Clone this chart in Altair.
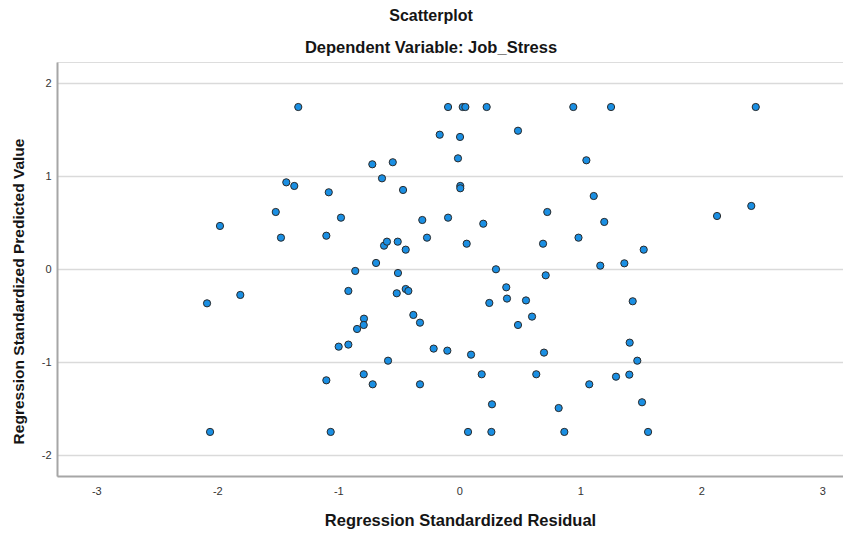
import altair as alt
import pandas as pd

residual = [
    -1.331, -0.093, 0.028, 0.050, 0.226, 0.942, 1.254, 2.450,
    -0.162, 0.006, 0.485, -0.011, -0.719, -0.550, 1.050, -0.639,
    -1.430, -1.364, -1.079, -0.465, 0.008, 0.008, 1.111, 2.413,
    0.727, -1.517, 2.130, -0.978, -0.306, -0.093, 0.198, 1.198,
    -1.978, -1.474, -1.099, -0.267, 0.985, -0.622, -0.598, -0.509,
    -0.443, 0.061, 0.692, 1.524, 1.165, 1.364, -0.860, -0.688,
    -0.507, 0.303, 0.714, -1.810, -2.085, -0.917, -0.517, -0.443,
    -0.421, 0.388, 0.394, 0.551, 0.248, 1.433, 0.601, 0.485,
    -0.380, -0.325, -0.788, -0.790, -0.845, 1.408, -0.997, -0.917,
    -0.212, -0.099, 0.097, 0.700, -0.589, 1.471, -1.099, -0.790,
    -0.716, -0.325, 0.185, 0.636, 1.295, 1.405, 1.074, 0.270,
    0.821, 1.510, -2.060, -1.063, 0.072, 0.265, 0.868, 1.560,
]
predicted = [
    1.745, 1.745, 1.745, 1.745, 1.745, 1.745, 1.745, 1.745,
    1.447, 1.423, 1.490, 1.193, 1.129, 1.151, 1.172, 0.978,
    0.935, 0.896, 0.828, 0.853, 0.896, 0.871, 0.788, 0.681,
    0.616, 0.616, 0.573, 0.555, 0.530, 0.555, 0.490, 0.509,
    0.466, 0.340, 0.361, 0.340, 0.340, 0.254, 0.297, 0.297,
    0.211, 0.275, 0.275, 0.211, 0.039, 0.064, -0.018, 0.068,
    -0.040, 0.000, -0.065, -0.276, -0.366, -0.233, -0.258, -0.212,
    -0.233, -0.194, -0.315, -0.335, -0.362, -0.344, -0.509, -0.599,
    -0.491, -0.574, -0.531, -0.599, -0.642, -0.789, -0.832, -0.810,
    -0.853, -0.875, -0.918, -0.896, -0.983, -0.983, -1.194, -1.129,
    -1.237, -1.237, -1.129, -1.129, -1.155, -1.133, -1.237, -1.452,
    -1.492, -1.430, -1.749, -1.749, -1.749, -1.749, -1.749, -1.749,
]
x_ticks = [-3, -2, -1, 0, 1, 2, 3]
y_ticks = [-2, -1, 0, 1, 2]

df = pd.DataFrame({"resid": residual, "pred": predicted})

FONT = "Liberation Sans"
LABEL_EXPR = "'' + datum.value"

chart = alt.Chart(df).mark_point(
    shape="circle", filled=True, size=52, fill="#1a8fe3",
    stroke="#2a2a2a", strokeWidth=1, opacity=1,
).encode(
    x=alt.X("resid:Q", scale=alt.Scale(domain=[-3.325, 3.171], nice=False, zero=False),
            axis=alt.Axis(values=x_ticks, grid=False, ticks=False, domainColor="#a6a6a6",
                          domainWidth=2, labelFont=FONT, labelFontSize=11, labelColor="#333333",
                          labelPadding=9, labelExpr=LABEL_EXPR,
                          title="Regression Standardized Residual",
                          titleFont=FONT, titleFontSize=16.5, titleFontWeight="bold",
                          titleColor="#151515", titleX=403, titleY=49,
                          titleAlign="center", titleBaseline="alphabetic", labelFlush=False)),
    y=alt.Y("pred:Q", scale=alt.Scale(domain=[-2.223, 2.229], nice=False, zero=False),
            axis=alt.Axis(values=y_ticks, grid=True, gridColor="#dadada", gridWidth=1.5,
                          ticks=False, domainColor="#a6a6a6", domainWidth=2,
                          labelFont=FONT, labelFontSize=11, labelColor="#333333",
                          labelPadding=6, labelExpr=LABEL_EXPR,
                          title="Regression Standardized Predicted Value",
                          titleFont=FONT, titleFontSize=15.5, titleFontWeight="bold",
                          titleColor="#151515", titleX=-39, titleY=229, titleAngle=270,
                          titleAlign="center", titleBaseline="middle", labelFlush=False)),
).properties(
    width=786, height=414,
    title=alt.TitleParams(
        text="Scatterplot", subtitle="Dependent Variable: Job_Stress",
        anchor="middle", dx=-19, offset=6, font=FONT, fontSize=16, fontWeight="bold",
        color="#151515", subtitleFont=FONT, subtitleFontSize=16.5,
        subtitleFontWeight="bold", subtitleColor="#151515", subtitlePadding=16,
    ),
    autosize=alt.AutoSizeParams(type="none"),
    padding={"left": 49, "top": 54, "right": 0, "bottom": 53},
).configure_view(stroke=None).configure(background="white")

chart.save("out.html", embed_options={"renderer": "svg", "actions": False})
